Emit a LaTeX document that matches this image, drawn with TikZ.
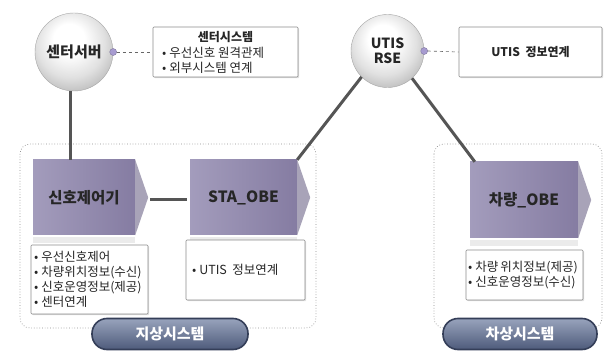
\documentclass[tikz,border=0pt]{standalone}
\usepackage{fontspec}
\setmainfont{Noto Sans CJK KR}
\usetikzlibrary{calc,shadows}
\definecolor{linec}{HTML}{555555}
\definecolor{blockL}{HTML}{A39CBC}
\definecolor{blockR}{HTML}{857CA2}
\definecolor{tipc}{HTML}{A8A3B8}
\definecolor{pillT}{HTML}{98A3BC}
\definecolor{pillB}{HTML}{4E5B7B}
\definecolor{pillD}{HTML}{343E58}
\definecolor{dotc}{HTML}{A79BD0}
\pgfdeclareradialshading{spherelight}{\pgfpoint{-4bp}{10bp}}{%
  color(0bp)=(white); color(10bp)=(white); color(22bp)=(black!12);
  color(32bp)=(black!28); color(40bp)=(black!38); color(50bp)=(black!45)}
\tikzset{
  sphere/.style={circle,shading=spherelight,draw=black!35,line width=0.4pt,minimum size=#1,inner sep=0pt,font=\bfseries\fontsize{15}{16}\selectfont,text=black!85},
  conn/.style={draw=linec,line width=3pt},
  infobox/.style={draw=black!45,fill=white,line width=0.6pt,drop shadow={shadow xshift=1.2pt,shadow yshift=-1.2pt,opacity=0.25},rounded corners=1pt},
  blockbox/.style={left color=blockL,right color=blockR,draw=none,inner sep=0pt,font=\bfseries\fontsize{15.5}{16}\selectfont,text=black!85},
  group/.style={draw=black!45,dotted,line width=0.7pt,rounded corners=10pt},
  pill/.style={rounded corners=15pt,top color=pillT,bottom color=pillB,draw=pillD,line width=1.6pt,inner sep=0pt,text=white,font=\bfseries\fontsize{15}{16}\selectfont},
  bullettext/.style={font=\fontsize{12.5}{15}\selectfont,align=left,anchor=west,inner sep=0pt,text=black!85},
  dashc/.style={draw=black!60,dashed,line width=0.6pt},
  knob/.style={circle,fill=dotc,draw=dotc!70!black,line width=0.3pt,minimum size=7pt,inner sep=0pt}
}
\begin{document}
\begin{tikzpicture}[x=1pt,y=1pt]
\useasboundingbox[fill=white] (0,0) rectangle (604,361);

% groups
\draw[group] (20,217) rectangle (316,33);
\draw[group] (434,217) rectangle (602,33);

% top info boxes
\node[infobox,minimum width=145pt,minimum height=50pt] (ib1) at (225.5,309) {};
\node[font=\bfseries\fontsize{12}{13}\selectfont,text=black!85] (ib1t) at (225.5,324) {센터시스템};
\node[bullettext] (ib1a) at (162,308) {• 우선신호\ 원격관제};
\node[bullettext] (ib1b) at (162,293) {• 외부시스템\ 연계};

\node[infobox,minimum width=143pt,minimum height=50pt] (ib2) at (530.5,309) {};
\node[font=\bfseries\fontsize{12}{13}\selectfont,text=black!85] (ib2t) at (530.5,309) {UTIS\ \ 정보연계};

% spheres
\node[sphere=78pt] (s1) at (74,309) {센터서버};
\node[sphere=73pt,align=center,font=\bfseries\fontsize{14}{15}\selectfont] (s2) at (387.5,310) {UTIS\\RSE};

% knobs and dashed leaders
\node[knob] (k1) at (s1.east) {};
\node[knob] (k2) at (s2.east) {};
\draw[dashc] (k1.east) -- (ib1.west);
\draw[dashc] (k2.east) -- (ib2.west);

% blocks
\node[blockbox,minimum width=102pt,minimum height=75pt] (b1) at (84,163.5) {신호제어기};
\node[blockbox,minimum width=107pt,minimum height=75pt] (b2) at (243.5,163.5) {STA\_OBE};
\node[blockbox,minimum width=108pt,minimum height=76pt] (b3) at (524,161) {차량\_OBE};
\foreach \b in {b1,b2,b3}{
  \fill[tipc] (\b.north east) -- ($(\b.east)+(13,0)$) -- (\b.south east) -- cycle;
  \fill[black!8] ($(\b.south west)+(0,-2)$) rectangle ($(\b.south east)+(0,-8)$);
}

% connectors
\draw[conn] (s1.south -| 70,0) -- (b1.north -| 70,0);
\draw[conn] ($(b1.east)+(15,-2)$) coordinate (c1) -- ($(b2.west)+(-3,-2)$) coordinate (c2);
\draw[conn] (s2.225) -- (b2.north east);
\draw[conn] (s2.312) -- ($(b3.north west)+(5,0)$);

% lower info boxes
\node[infobox,minimum width=117pt,minimum height=69pt] (tb1) at (89.5,81.5) {};
\node[bullettext] (tb1t) at (34,81.5) {• 우선신호제어\\• 차량위치정보(수신)\\• 신호운영정보(제공)\\• 센터연계};
\node[infobox,minimum width=119pt,minimum height=60pt] (tb2) at (245.5,91) {};
\node[bullettext] (tb2t) at (192,91) {• UTIS\ \ 정보연계};
\node[infobox,minimum width=117pt,minimum height=50pt] (tb3) at (524.5,86) {};
\node[bullettext] (tb3t) at (468,86) {• 차량\,위치정보(제공)\\• 신호운영정보(수신)};

% pills
\node[pill,minimum width=156pt,minimum height=31pt] (p1) at (170,27) {지상시스템};
\node[pill,minimum width=154pt,minimum height=31pt] (p2) at (520,27) {차상시스템};
\end{tikzpicture}
\end{document}
